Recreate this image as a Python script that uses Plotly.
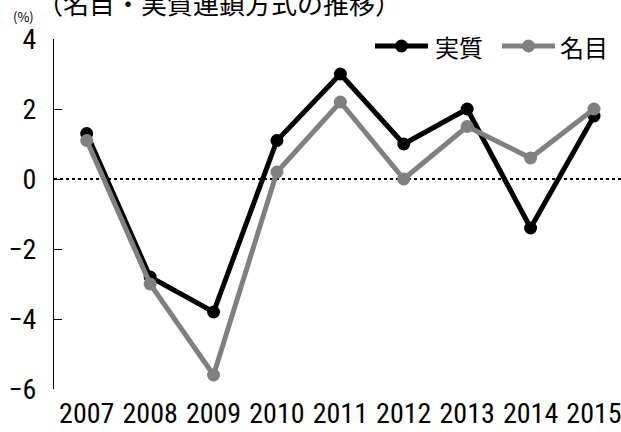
import plotly.graph_objects as go

years = [2007, 2008, 2009, 2010, 2011, 2012, 2013, 2014, 2015]
real = [1.3, -2.8, -3.8, 1.1, 3.0, 1.0, 2.0, -1.4, 1.8]
nominal = [1.1, -3.0, -5.6, 0.2, 2.2, 0.0, 1.5, 0.6, 2.0]
y_ticks = [-6, -4, -2, 0, 2, 4]
series_names = ["実質", "名目"]
series_colors = ["#000000", "#808080"]
title_text = "（名目・実質連鎖方式の推移）"
unit_text = "(%)"

num_font = "Roboto Condensed, DejaVu Sans Condensed, sans-serif"
cjk_font = "Noto Sans CJK JP, sans-serif"

W, H = 621, 432
L, R, T, B = 54, 0, 39, 43
PW, PH = W - L - R, H - T - B


def px_x(px):
    return (px - L) / PW


def px_y(py):
    return (H - B - py) / PH


fig = go.Figure()
for name, vals, col in zip(series_names, [real, nominal], series_colors):
    fig.add_trace(go.Scatter(
        x=years, y=vals, name=name, mode="lines+markers",
        line=dict(color=col, width=5),
        marker=dict(color=col, size=13),
        showlegend=False,
    ))

fig.add_shape(type="line", xref="paper", yref="y", x0=0, x1=1, y0=0, y1=0,
              line=dict(color="#000000", width=2, dash="dot"), layer="below")

# manual legend
legend_items = [(375, 428, 433), (502, 555, 558)]
for (x0, x1, tx), name, col in zip(legend_items, series_names, series_colors):
    ly = px_y(46)
    fig.add_shape(type="line", xref="paper", yref="paper", x0=px_x(x0), x1=px_x(x1),
                  y0=ly, y1=ly, line=dict(color=col, width=5))
    fig.add_shape(type="circle", xref="paper", yref="paper", xsizemode="pixel",
                  ysizemode="pixel", xanchor=px_x((x0 + x1) / 2), yanchor=ly,
                  x0=-6.5, x1=6.5, y0=-6.5, y1=6.5,
                  fillcolor=col, line=dict(color=col, width=0))
    fig.add_annotation(text=name, xref="paper", yref="paper", x=px_x(tx), y=ly,
                       xanchor="left", yanchor="middle", showarrow=False,
                       font=dict(family=cjk_font, size=24, color="#000000"))

fig.add_annotation(text=title_text, xref="paper", yref="paper", x=-0.034, y=1.0,
                   xanchor="left", yanchor="bottom", yshift=16, showarrow=False,
                   font=dict(family=cjk_font, size=26, color="#000000"))
fig.add_annotation(text=unit_text, xref="paper", yref="paper", x=px_x(23), y=px_y(17),
                   xanchor="center", yanchor="middle", showarrow=False,
                   font=dict(family=cjk_font, size=13, color="#000000"))

fig.update_layout(
    width=W, height=H,
    margin=dict(l=L, r=R, t=T, b=B),
    paper_bgcolor="white", plot_bgcolor="white",
    showlegend=False,
    font=dict(family=num_font, size=28, color="#000000"),
)
fig.update_xaxes(
    range=[2006.484, 2015.426], tickmode="array", tickvals=years,
    ticktext=[str(y) for y in years], showgrid=False, zeroline=False,
    showline=False, ticks="", automargin=False, ticklabeloverflow="allow",
    ticklabelstandoff=5, tickfont=dict(family=num_font, size=28),
)
fig.update_yaxes(
    range=[-6, 4], tickmode="array", tickvals=y_ticks,
    ticktext=[("−" + str(-v)) if v < 0 else str(v) for v in y_ticks],
    showgrid=False, zeroline=False, showline=True, linecolor="#000000", linewidth=1,
    ticks="inside", ticklen=8, tickcolor="#000000", tickwidth=1, automargin=False,
    ticklabelstandoff=11, tickfont=dict(family=num_font, size=28),
)

fig.write_html(
    "out.html",
    config={"displayModeBar": False},
    post_script="document.body.style.margin='0';document.body.style.padding='0';"
                "document.body.style.overflow='hidden';",
)
